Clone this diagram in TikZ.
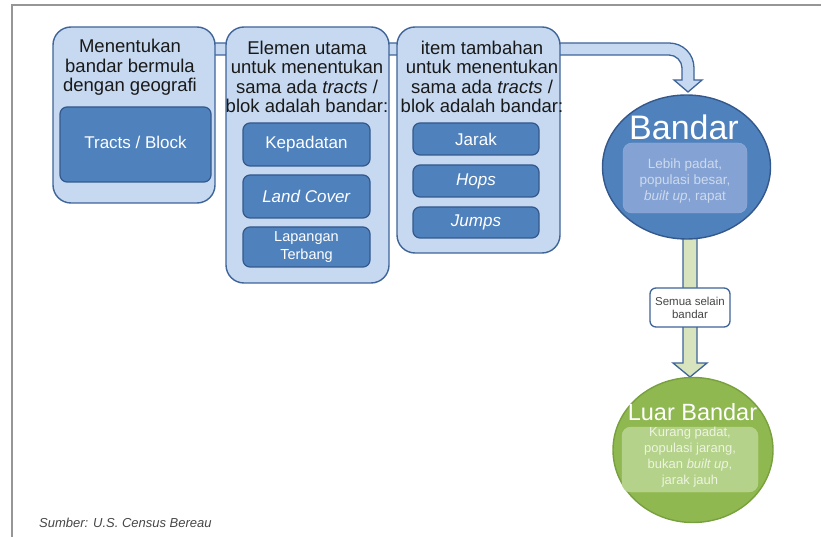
\documentclass[tikz,border=0pt]{standalone}
\usepackage{fontspec}
\setmainfont{Liberation Sans}
\usetikzlibrary{shapes.geometric}
\definecolor{framegray}{RGB}{150,150,150}
\definecolor{paleblue}{RGB}{198,217,241}
\definecolor{edgeblue}{RGB}{62,100,152}
\definecolor{midblue}{RGB}{79,129,189}
\definecolor{darkblue}{RGB}{52,88,140}
\definecolor{softblue}{RGB}{132,162,211}
\definecolor{softtext}{RGB}{205,218,238}
\definecolor{leafgreen}{RGB}{143,184,80}
\definecolor{leafedge}{RGB}{120,160,62}
\definecolor{softgreen}{RGB}{180,210,138}
\definecolor{paletext}{RGB}{236,244,222}
\definecolor{shaftgreen}{RGB}{215,228,189}
\definecolor{inktext}{RGB}{25,25,25}
\definecolor{greytext}{RGB}{70,70,70}
\begin{document}
\begin{tikzpicture}[x=1pt,y=-1pt,
  outerbox/.style={draw=edgeblue,line width=1.4pt,fill=paleblue,rounded corners=18pt,inner sep=0pt},
  innerbox/.style={draw=darkblue,line width=1.2pt,fill=midblue,rounded corners=7pt,inner sep=0pt,text=white,font=\fontsize{17}{19}\selectfont},
  titletext/.style={align=center,text=inktext,inner sep=0pt,font=\fontsize{18.5}{19.5}\selectfont},
  bandstyle/.style={draw=edgeblue,line width=1.3pt,fill=paleblue},
  shaftstyle/.style={draw=edgeblue,line width=1.3pt,fill=shaftgreen}]
\useasboundingbox (0,0) rectangle (822,537);
% frame
\draw[framegray,line width=1.5pt] (12,537) -- (12,5) -- (821,5);
% process band (drawn behind boxes)
\draw[bandstyle] (205,43) -- (669,43) .. controls (683,43) and (694,54) .. (694,68)
  -- (694,80) -- (702,80) -- (688,92) -- (674,80) -- (682,80) -- (682,68)
  .. controls (682,61) and (676,55) .. (669,55) -- (205,55) -- cycle;
% outer boxes
\node[outerbox,minimum width=162pt,minimum height=176pt] (b1) at (134,115) {};
\node[outerbox,minimum width=163pt,minimum height=256pt] (b2) at (307.5,155) {};
\node[outerbox,minimum width=163pt,minimum height=226pt] (b3) at (478.5,140) {};
% titles
\node[titletext] (t1) at (130,67.5) {Menentukan\\bandar bermula\\dengan geografi};
\node[titletext] (t2) at (307,77) {Elemen utama\\untuk menentukan\\sama ada \textit{tracts} /\\blok adalah bandar:};
\node[titletext] (t3) at (482,77) {item tambahan\\untuk menentukan\\sama ada \textit{tracts} /\\blok adalah bandar:};
% inner boxes
\node[innerbox,minimum width=151pt,minimum height=75pt] (tb) at (135.5,144.5) {\raisebox{4pt}{Tracts / Block}};
\node[innerbox,minimum width=127pt,minimum height=43pt] (kp) at (306.5,144.5) {Kepadatan};
\node[innerbox,minimum width=127pt,minimum height=43pt] (lc) at (306.5,196.5) {\textit{Land Cover}};
\node[innerbox,minimum width=127pt,minimum height=40pt,align=center,font=\fontsize{14.5}{18}\selectfont] (lt) at (306.5,247) {Lapangan\\Terbang};
\node[innerbox,minimum width=126pt,minimum height=32pt] (jr) at (476,139) {Jarak};
\node[innerbox,minimum width=126pt,minimum height=32pt] (hp) at (476,181) {\textit{Hops}};
\node[innerbox,minimum width=126pt,minimum height=31pt] (jm) at (476,222.5) {\textit{Jumps}};
% vertical arrow between ellipses
\draw[shaftstyle] (683,225) -- (697,225) -- (697,363) -- (707,363) -- (690,377) -- (673,363) -- (683,363) -- cycle;
% Bandar
\node[ellipse,draw=darkblue,line width=1.4pt,fill=midblue,minimum width=168pt,minimum height=144pt,inner sep=0pt] (bandar) at (686.5,167) {};
\node[text=white,inner sep=0pt,font=\fontsize{34}{36}\selectfont] (bandart) at (684,127) {Bandar};
\node[draw=softblue!85!white,fill=softblue,rounded corners=9pt,minimum width=124pt,minimum height=70pt,inner sep=0pt] (bandarin) at (685,178) {};
\node[align=center,text=softtext,inner sep=0pt,font=\fontsize{13.5}{16}\selectfont] (bandartx) at (685,181) {Lebih padat,\\populasi besar,\\\textit{built up}, rapat};
% Luar Bandar
\node[ellipse,draw=leafedge,line width=1.4pt,fill=leafgreen,minimum width=160pt,minimum height=145pt,inner sep=0pt] (luar) at (693,450) {};
\node[text=white,inner sep=0pt,font=\fontsize{23.5}{25}\selectfont] (luart) at (692.5,412) {Luar Bandar};
\node[draw=softgreen!90!white,fill=softgreen,rounded corners=9pt,minimum width=136pt,minimum height=65pt,inner sep=0pt] (luarin) at (690,459.5) {};
\node[align=center,text=paletext,inner sep=0pt,font=\fontsize{13}{16}\selectfont] (luartx) at (690,457) {Kurang padat,\\populasi jarang,\\bukan \textit{built up},\\jarak jauh};
% label on the arrow
\node[draw=edgeblue,line width=1.3pt,fill=white,rounded corners=6pt,minimum width=80pt,minimum height=39pt,inner sep=0pt,align=center,text=greytext,font=\fontsize{11.5}{13}\selectfont] (lbl) at (690,307.5) {Semua selain\\bandar};
% source
\node[anchor=west,inner sep=0pt,text=greytext,font=\fontsize{13}{15}\selectfont\itshape] (src) at (39,523) {Sumber: U.S. Census Bereau};
\end{tikzpicture}
\end{document}
